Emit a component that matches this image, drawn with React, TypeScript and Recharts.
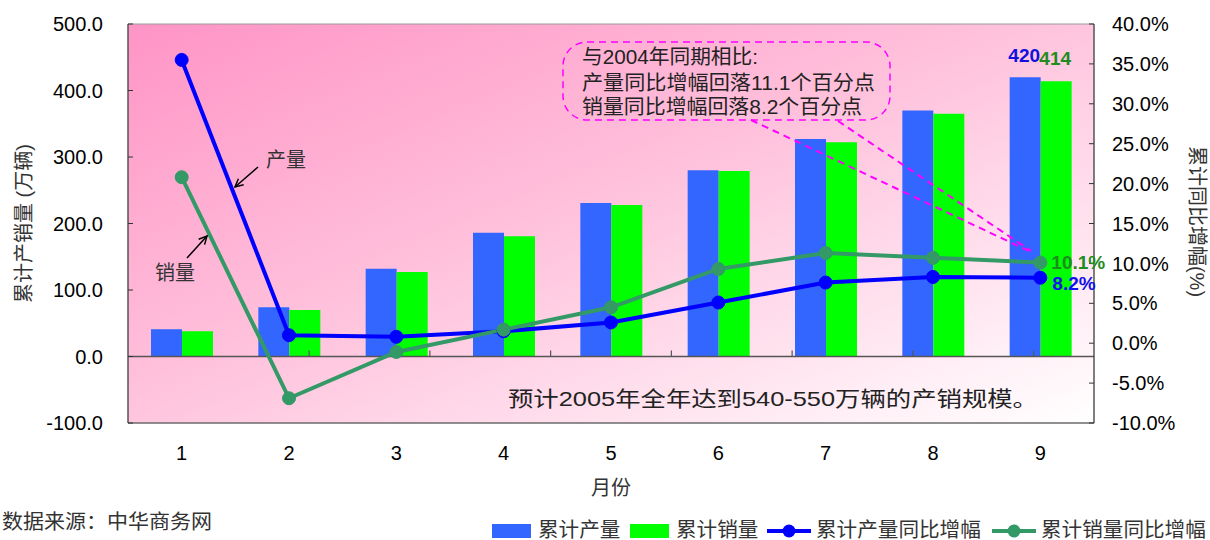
import {
  Bar,
  ComposedChart,
  LabelList,
  Line,
  ReferenceArea,
  ReferenceLine,
  XAxis,
  YAxis,
} from "recharts";

const FONT = "'Liberation Sans', Arial, 'Noto Sans CJK SC', sans-serif";

const MONTHS = ["1", "2", "3", "4", "5", "6", "7", "8", "9"];
const OUTPUT_CUM = [41, 74, 132, 186, 231, 280, 327, 370, 420];
const SALES_CUM = [38, 70, 127, 181, 228, 279, 322, 365, 414];
const OUTPUT_YOY = [35.5, 1.0, 0.8, 1.5, 2.6, 5.1, 7.6, 8.3, 8.2];
const SALES_YOY = [20.8, -6.9, -1.1, 1.7, 4.5, 9.3, 11.3, 10.7, 10.1];

const LEFT_TICKS = [-100, 0, 100, 200, 300, 400, 500];
const RIGHT_TICKS = [-10, -5, 0, 5, 10, 15, 20, 25, 30, 35, 40];
// small tick marks on the zero line, between the months
const BOUNDARIES = [1.5, 2.5, 3.5, 4.5, 5.5, 6.5, 7.5, 8.5];

const LAST = MONTHS.length - 1;

const data = MONTHS.map((m, i) => ({
  month: m,
  output: OUTPUT_CUM[i],
  sales: SALES_CUM[i],
  outputYoy: OUTPUT_YOY[i],
  salesYoy: SALES_YOY[i],
}));

const isLast = (p: any, arr: number[]) =>
  p.index !== undefined ? p.index === LAST : p.value === arr[LAST];

const legendItems = [
  { left: 492, kind: "bar", color: "#3366FF", text: "累计产量" },
  { left: 630, kind: "bar", color: "#00FF00", text: "累计销量" },
  { left: 767, kind: "line", color: "#0000FF", text: "累计产量同比增幅" },
  { left: 992, kind: "line", color: "#339966", text: "累计销量同比增幅" },
];

export default function App() {
  return (
    <div style={{ position: "absolute", left: 0, top: 0, width: 1210, height: 540, fontFamily: FONT, background: "#fff" }}>
      <ComposedChart
        width={1210}
        height={540}
        data={data}
        margin={{ top: 24, right: 0, bottom: 57, left: 20 }}
        barGap={0}
        barSize={31}
      >
        <defs>
          <linearGradient id="plotBg" x1="0" y1="0" x2="1" y2="1">
            <stop offset="0" stopColor="#FF94C6" />
            <stop offset="0.45" stopColor="#FFC0DB" />
            <stop offset="1" stopColor="#FFFFFF" />
          </linearGradient>
        </defs>
        <XAxis
          xAxisId="cat"
          dataKey="month"
          height={60}
          interval={0}
          tickLine={false}
          tickSize={0}
          tickMargin={23}
          axisLine={{ stroke: "#555" }}
          tick={{ fontSize: 20, fill: "#000", fontFamily: FONT }}
        />
        <XAxis xAxisId="num" type="number" domain={[0.5, 9.5]} allowDataOverflow hide />
        <YAxis
          yAxisId="left"
          domain={[-100, 500]}
          ticks={LEFT_TICKS}
          allowDataOverflow
          width={108}
          tickSize={-5}
          tickMargin={30}
          tickFormatter={(v: number) => v.toFixed(1)}
          axisLine={{ stroke: "#333" }}
          tickLine={{ stroke: "#333" }}
          tick={{ fontSize: 20, fill: "#000", fontFamily: FONT }}
          label={{
            content: (p: any) => {
              const vb = p.viewBox;
              const cx = vb.x + 4;
              const cy = vb.y + vb.height / 2;
              return (
                <text x={cx} y={cy} transform={`rotate(-90 ${cx} ${cy})`} textAnchor="middle" dominantBaseline="central" fontSize={20} fill="#333" fontFamily={FONT}>
                  累计产销量 (万辆)
                </text>
              );
            },
          }}
        />
        <YAxis
          yAxisId="right"
          orientation="right"
          domain={[-10, 40]}
          ticks={RIGHT_TICKS}
          allowDataOverflow
          width={116}
          tickSize={-5}
          tickMargin={23}
          tickFormatter={(v: number) => v.toFixed(1) + "%"}
          axisLine={{ stroke: "#333" }}
          tickLine={{ stroke: "#333" }}
          tick={{ fontSize: 20, fill: "#000", fontFamily: FONT }}
          label={{
            content: (p: any) => {
              const vb = p.viewBox;
              const cx = vb.x + vb.width - 13;
              const cy = vb.y + vb.height / 2 - 2;
              return (
                <text x={cx} y={cy} transform={`rotate(90 ${cx} ${cy})`} textAnchor="middle" dominantBaseline="central" fontSize={20} fill="#333" fontFamily={FONT}>
                  累计同比增幅(%)
                </text>
              );
            },
          }}
        />
        <ReferenceArea
          xAxisId="cat"
          yAxisId="left"
          y1={-100}
          y2={500}
          fill="url(#plotBg)"
          fillOpacity={1}
          stroke="#999"
          strokeWidth={1}
        />
        <ReferenceLine xAxisId="cat" yAxisId="left" y={0} stroke="#555" strokeWidth={1.5} />
        {BOUNDARIES.map((b) => (
          <ReferenceLine
            key={b}
            xAxisId="num"
            yAxisId="left"
            segment={[{ x: b, y: 0 }, { x: b, y: 9 }]}
            stroke="#555"
            strokeWidth={1.2}
          />
        ))}
        <Bar xAxisId="cat" yAxisId="left" dataKey="output" fill="#3366FF" isAnimationActive={false}>
          <LabelList
            dataKey="output"
            content={(p: any) =>
              isLast(p, OUTPUT_CUM) ? (
                <text x={p.x + p.width / 2 - 1} y={p.y - 15} textAnchor="middle" fontSize={19} fontWeight="bold" fill="#1111DD" fontFamily={FONT}>
                  {p.value}
                </text>
              ) : null
            }
          />
        </Bar>
        <Bar xAxisId="cat" yAxisId="left" dataKey="sales" fill="#00FF00" isAnimationActive={false}>
          <LabelList
            dataKey="sales"
            content={(p: any) =>
              isLast(p, SALES_CUM) ? (
                <text x={p.x + p.width / 2 - 1} y={p.y - 16} textAnchor="middle" fontSize={19} fontWeight="bold" fill="#1E8C1E" fontFamily={FONT}>
                  {p.value}
                </text>
              ) : null
            }
          />
        </Bar>
        <Line
          xAxisId="cat"
          yAxisId="right"
          dataKey="outputYoy"
          stroke="#0000FF"
          strokeWidth={4}
          dot={{ r: 6.5, fill: "#0000FF", stroke: "#0000FF", strokeWidth: 1 }}
          isAnimationActive={false}
        >
          <LabelList
            dataKey="outputYoy"
            content={(p: any) =>
              isLast(p, OUTPUT_YOY) ? (
                <text x={p.x + 12} y={p.y + 6} dominantBaseline="central" fontSize={19} fontWeight="bold" fill="#1111EE" fontFamily={FONT}>
                  {p.value.toFixed(1)}%
                </text>
              ) : null
            }
          />
        </Line>
        <Line
          xAxisId="cat"
          yAxisId="right"
          dataKey="salesYoy"
          stroke="#339966"
          strokeWidth={4}
          dot={{ r: 6.5, fill: "#339966", stroke: "#339966", strokeWidth: 1 }}
          isAnimationActive={false}
        >
          <LabelList
            dataKey="salesYoy"
            content={(p: any) =>
              isLast(p, SALES_YOY) ? (
                <text x={p.x + 11} y={p.y} dominantBaseline="central" fontSize={19} fontWeight="bold" fill="#1E8C1E" fontFamily={FONT}>
                  {p.value.toFixed(1)}%
                </text>
              ) : null
            }
          />
        </Line>
      </ComposedChart>

      {/* annotations drawn over the chart */}
      <svg width={1210} height={540} style={{ position: "absolute", left: 0, top: 0, pointerEvents: "none" }} fontFamily={FONT}>
        <defs>
          <marker id="arrowHead" markerWidth="10" markerHeight="10" refX="9" refY="5" orient="auto" markerUnits="userSpaceOnUse">
            <path d="M1,1 L9,5 L1,9" fill="none" stroke="#000" strokeWidth="1.5" />
          </marker>
        </defs>
        <text x={286} y={160} textAnchor="middle" dominantBaseline="central" fontSize={20} fill="#333">产量</text>
        <line x1={258} y1={167} x2={235} y2={187} stroke="#000" strokeWidth={1.5} markerEnd="url(#arrowHead)" />
        <text x={175} y={273} textAnchor="middle" dominantBaseline="central" fontSize={20} fill="#333">销量</text>
        <line x1={187} y1={258} x2={207} y2={236} stroke="#000" strokeWidth={1.5} markerEnd="url(#arrowHead)" />

        <rect x={563} y={42} width={327} height={78} rx={24} fill="none" stroke="#FF00FF" strokeWidth={1.5} strokeDasharray="7 5" />
        <line x1={751} y1={120} x2={1031} y2={252} stroke="#FF00FF" strokeWidth={2} strokeDasharray="7 5" />
        <line x1={838} y1={121} x2={1031} y2={251} stroke="#FF00FF" strokeWidth={2} strokeDasharray="7 5" />
        <text x={582} y={57} dominantBaseline="central" fontSize={20} fill="#222" textLength={176} lengthAdjust="spacingAndGlyphs">与2004年同期相比:</text>
        <text x={582} y={83} dominantBaseline="central" fontSize={20} fill="#222" textLength={293} lengthAdjust="spacingAndGlyphs">产量同比增幅回落11.1个百分点</text>
        <text x={582} y={107} dominantBaseline="central" fontSize={20} fill="#222" textLength={280} lengthAdjust="spacingAndGlyphs">销量同比增幅回落8.2个百分点</text>

        <text x={508} y={398} dominantBaseline="central" fontSize={21} fill="#222" textLength={530} lengthAdjust="spacingAndGlyphs">预计2005年全年达到540-550万辆的产销规模。</text>

        <text x={611} y={488} textAnchor="middle" dominantBaseline="central" fontSize={20} fill="#333">月份</text>
        <text x={2} y={522} dominantBaseline="central" fontSize={20} fill="#333" textLength={210} lengthAdjust="spacingAndGlyphs">数据来源：中华商务网</text>

        {legendItems.map((it) => (
          <g key={it.text}>
            {it.kind === "bar" ? (
              <rect x={it.left} y={524} width={39} height={14} fill={it.color} />
            ) : (
              <g>
                <line x1={it.left} y1={531} x2={it.left + 44} y2={531} stroke={it.color} strokeWidth={4} />
                <circle cx={it.left + 22} cy={531} r={6.5} fill={it.color} />
              </g>
            )}
            <text
              x={it.left + (it.kind === "bar" ? 46 : 49)}
              y={530}
              dominantBaseline="central"
              fontSize={20}
              fill="#333"
              textLength={it.text.length * 20.6}
              lengthAdjust="spacingAndGlyphs"
            >
              {it.text}
            </text>
          </g>
        ))}
      </svg>
    </div>
  );
}
